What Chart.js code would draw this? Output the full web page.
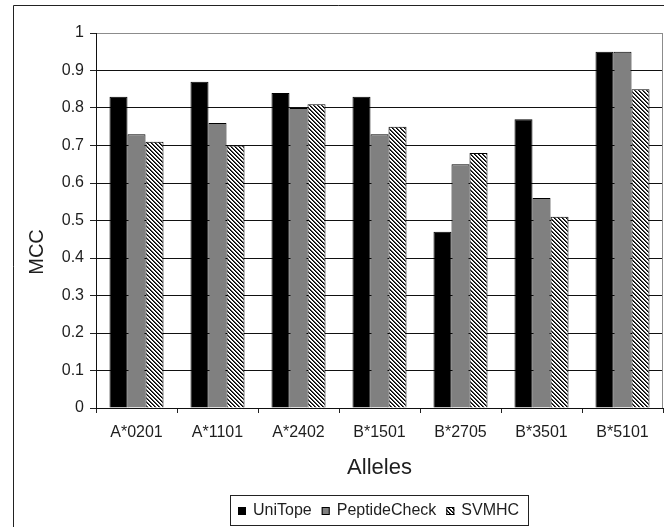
<!DOCTYPE html>
<html>
<head>
<meta charset="utf-8">
<script src="https://cdn.jsdelivr.net/npm/chart.js@4.4.1/dist/chart.umd.min.js"></script>
<style>
  html, body { margin: 0; padding: 0; background: #fff; }
  #wrap { width: 664px; height: 527px; }
</style>
</head>
<body>
<div id="wrap"><canvas id="c" width="664" height="527"></canvas></div>
<script>
// MCC per allele for each predictor
const alleles = ['A*0201', 'A*1101', 'A*2402', 'B*1501', 'B*2705', 'B*3501', 'B*5101'];
const uniTope = [0.83, 0.87, 0.84, 0.83, 0.47, 0.77, 0.95];
const peptideCheck = [0.73, 0.76, 0.80, 0.73, 0.65, 0.56, 0.95];
const svmhc = [0.71, 0.70, 0.81, 0.75, 0.68, 0.51, 0.85];
const yTickLabels = ['0', '0.1', '0.2', '0.3', '0.4', '0.5', '0.6', '0.7', '0.8', '0.9', '1'];
const seriesNames = ['UniTope', 'PeptideCheck', 'SVMHC'];
const yTitle = 'MCC';
const xTitle = 'Alleles';

const FONT = '"Liberation Sans", Arial, sans-serif';
const TEXT = '#1e1e1e';

// diagonal hatch (top-left to bottom-right) used for the SVMHC bars
function makeHatch() {
  const t = document.createElement('canvas');
  t.width = 4; t.height = 4;
  const g = t.getContext('2d');
  g.fillStyle = '#fff'; g.fillRect(0, 0, 4, 4);
  g.fillStyle = '#000';
  for (let i = 0; i < 4; i++) g.fillRect(i, i, 1, 1);
  g.fillStyle = '#4a4a4a';
  for (let i = 0; i < 4; i++) g.fillRect((i + 1) % 4, i, 1, 1);
  return g.createPattern(t, 'repeat');
}
const hatch = makeHatch();

const frame = {
  id: 'frame',
  beforeDraw(chart) {
    const ctx = chart.ctx;
    ctx.save();
    ctx.fillStyle = '#fff';
    ctx.fillRect(0, 0, chart.width, chart.height);
    ctx.strokeStyle = '#222';
    ctx.lineWidth = 1;
    ctx.beginPath();
    ctx.moveTo(13.5, chart.height);
    ctx.lineTo(13.5, 5.5);
    ctx.lineTo(chart.width, 5.5);
    ctx.stroke();
    ctx.restore();
  },
  afterDraw(chart) {
    const ctx = chart.ctx;
    const a = chart.chartArea;
    ctx.save();
    // plot area border on the right
    ctx.strokeStyle = '#8c8c8c';
    ctx.lineWidth = 1;
    ctx.beginPath();
    ctx.moveTo(Math.round(a.right) - 0.5, a.top);
    ctx.lineTo(Math.round(a.right) - 0.5, a.bottom);
    ctx.stroke();

    // vertical axis title
    ctx.fillStyle = TEXT;
    ctx.font = '20px ' + FONT;
    ctx.textAlign = 'center';
    ctx.textBaseline = 'middle';
    ctx.translate(37, 252);
    ctx.rotate(-Math.PI / 2);
    ctx.fillText(yTitle, 0, 0);
    ctx.setTransform(1, 0, 0, 1, 0, 0);

    // boxed legend below the axis title
    ctx.font = '16px ' + FONT;
    const items = chart.data.datasets.map(d => ({ label: d.label, fill: d.backgroundColor }));
    const mk = 8, gapMT = 7, gapItem = 10, padL = 8, padR = 9;
    let total = padL + padR;
    items.forEach((it, i) => {
      it.w = ctx.measureText(it.label).width;
      total += mk + gapMT + it.w + (i ? gapItem : 0);
    });
    const boxTop = chart.height - 32;
    const boxH = 30;
    const boxLeft = Math.round((a.left + a.right) / 2 - total / 2);
    ctx.strokeStyle = '#222';
    ctx.strokeRect(boxLeft + 0.5, boxTop + 0.5, Math.round(total), boxH);
    const cy = boxTop + boxH / 2 + 0.5;
    let x = boxLeft + padL;
    ctx.textAlign = 'left';
    items.forEach(it => {
      ctx.fillStyle = it.fill;
      ctx.fillRect(x, Math.round(cy - mk / 2), mk, mk);
      ctx.strokeStyle = '#000';
      ctx.strokeRect(x + 0.5, Math.round(cy - mk / 2) + 0.5, mk - 1, mk - 1);
      x += mk + gapMT;
      ctx.fillStyle = TEXT;
      ctx.fillText(it.label, x, cy);
      x += it.w + gapItem;
    });
    ctx.restore();
  }
};

const ds = (label, data, fill) => ({
  label, data,
  backgroundColor: fill,
  borderColor: '#000',
  borderWidth: 1,
  categoryPercentage: 0.667,
  barPercentage: 1.0
});

new Chart(document.getElementById('c'), {
  type: 'bar',
  data: {
    labels: alleles,
    datasets: [
      ds(seriesNames[0], uniTope, '#000000'),
      ds(seriesNames[1], peptideCheck, '#808080'),
      ds(seriesNames[2], svmhc, hatch)
    ]
  },
  options: {
    responsive: false,
    animation: false,
    devicePixelRatio: 1,
    layout: { padding: { top: 33, right: 1, left: 0, bottom: 0 } },
    plugins: { legend: { display: false }, tooltip: { enabled: false } },
    scales: {
      x: {
        grid: { offset: true, drawOnChartArea: false, drawTicks: true, tickLength: 5, tickColor: '#222' },
        border: { color: '#111', width: 1 },
        ticks: { color: TEXT, font: { family: FONT, size: 16 }, padding: 10, maxRotation: 0, autoSkip: false },
        title: { display: true, text: xTitle, color: TEXT, font: { family: FONT, size: 22 }, padding: { top: 0, bottom: 46 } },
        afterFit(s) { s.height = 119; }
      },
      y: {
        min: 0, max: 1,
        ticks: {
          stepSize: 0.1,
          color: TEXT,
          font: { family: FONT, size: 16 },
          padding: 6,
          callback: (v, i) => yTickLabels[i]
        },
        grid: {
          color: ctx => (ctx.index === yTickLabels.length - 1 ? '#8c8c8c' : '#111111'),
          lineWidth: 1,
          drawTicks: true,
          tickLength: 6,
          tickColor: '#222'
        },
        border: { color: '#111', width: 1 },
        afterFit(s) { s.width = 96; }
      }
    }
  },
  plugins: [frame]
});
</script>
</body>
</html>
